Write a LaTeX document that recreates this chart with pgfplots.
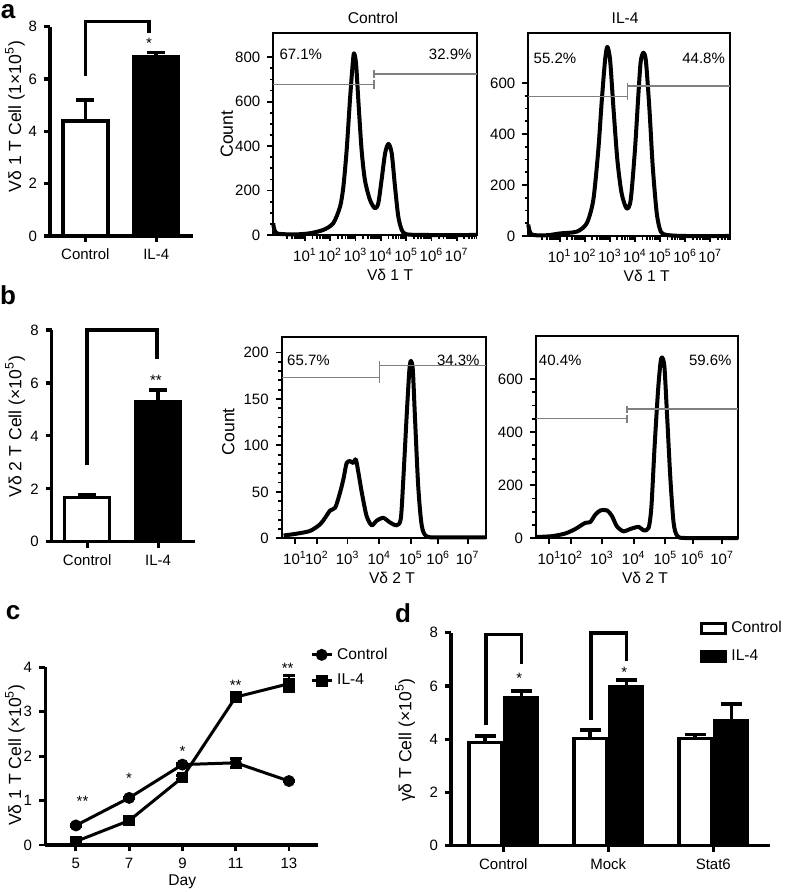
\documentclass[border=0pt]{standalone}
\usepackage{pgfplots}
\pgfplotsset{compat=1.18}
\usepackage{fontspec}
\setmainfont{Liberation Sans}
\newcommand\fs{\fontsize{7.5}{9}\selectfont}
\newcommand\fl{\fontsize{7.8}{9}\selectfont}
\newcommand\fy{\fontsize{8.8}{10}\selectfont}
\pgfplotsset{
  base/.style={scale only axis, clip=false,
    /pgf/number format/assume math mode=true,
    tick label style={font=\fs, black}, label style={font=\fl}, ylabel style={font=\fy}, title style={font=\fl},
    tick style={black}},
  barax/.style={base, axis x line=bottom, axis y line=left,
    axis line style={-, line width=1.8pt}, tick align=outside,
    major tick length=3pt, tick style={line width=1.6pt}},
  hist/.style={base, axis line style={line width=1.1pt}, tick align=outside,
    xtick pos=bottom, ytick pos=left, major tick length=3pt, minor tick length=1.8pt,
    tick style={line width=0.9pt},
    xlabel style={at={(axis description cs:#1,-0.198)}, anchor=center},
    clip mode=individual},
  curve/.style={black, line width=2pt, smooth, tension=0.45, line join=round},
  gate/.style={gray, line width=0.6pt},
  errb/.style={/pgfplots/error bars/y dir=plus, /pgfplots/error bars/y explicit,
    /pgfplots/error bars/error bar style={line width=1.8pt, black},
    /pgfplots/error bars/error mark options={rotate=90, mark size=#1, line width=1.8pt, black}},
  boxlegend/.style={legend image code/.code={\draw[##1,/tikz/.cd,line width=1.6pt,yshift=-2.5pt] (0pt,0pt) rectangle (12pt,5pt);}},
  brk/.style={black, line width=1.8pt, line join=miter},
}
\begin{document}
\begin{tikzpicture}
\useasboundingbox (0,0) rectangle (392pt,446pt);

% panel labels
\node[font=\fontsize{13}{13}\selectfont\bfseries] at (4pt,440pt) {a};
\node[font=\fontsize{13}{13}\selectfont\bfseries] at (4pt,298.5pt) {b};
\node[font=\fontsize{13}{13}\selectfont\bfseries] at (6.5pt,139.5pt) {c};
\node[font=\fontsize{13}{13}\selectfont\bfseries] at (201.5pt,139.5pt) {d};

% ---------- a: bar ----------
\begin{axis}[barax, at={(25pt,328pt)}, anchor=south west, width=71.5pt, height=104.65pt,
  xmin=-0.5, xmax=1.52, ymin=0, ymax=8, ytick={0,2,4,6,8},
  xtick={0,1}, xticklabels={Control,IL-4},
  ylabel={Vδ 1 T Cell (1×10\textsuperscript{5})},
  ylabel style={at={(axis description cs:-0.245,0.57)}, anchor=center}]
\addplot[ybar, bar width=0.634, bar shift=0pt, fill=white, draw=black, line width=1.8pt, errb=4.5pt]
  coordinates {(0,4.4) +- (0,0.8)};
\addplot[ybar, bar width=0.634, bar shift=0pt, fill=black, draw=black, line width=1.8pt, errb=4.5pt]
  coordinates {(1,6.85) +- (0,0.17)};
\addplot[brk] coordinates {(0,6.1) (0,8.2) (0.9,8.2) (0.9,7.76)};
\node[font=\fs] at (axis cs:0.9,7.35) {*};
\end{axis}

% ---------- a: histogram Control ----------
\begin{axis}[hist=0.574, at={(136.65pt,328.5pt)}, anchor=south west, width=101.7pt, height=100.85pt,
  xmin=-0.25, xmax=7.79, ymin=0, ymax=908,
  xtick={1,2,3,4,5,6,7},
  xticklabels={10\textsuperscript{1},10\textsuperscript{2},10\textsuperscript{3},10\textsuperscript{4},10\textsuperscript{5},10\textsuperscript{6},10\textsuperscript{7}},
  minor xtick={0.30,0.48,0.60,0.70,0.78,0.85,0.90,0.95,1.30,1.48,1.60,1.70,1.78,1.85,1.90,1.95,2.30,2.48,2.60,2.70,2.78,2.85,2.90,2.95,3.30,3.48,3.60,3.70,3.78,3.85,3.90,3.95,4.30,4.48,4.60,4.70,4.78,4.85,4.90,4.95,5.30,5.48,5.60,5.70,5.78,5.85,5.90,5.95,6.30,6.48,6.60,6.70,6.78,6.85,6.90,6.95,7.30,7.48,7.60,7.70,7.78},
  ytick={0,200,400,600,800}, minor y tick num=3,
  ylabel={Count}, ylabel style={at={(axis description cs:-0.228,0.5)}, anchor=center},
  xlabel={Vδ 1 T},
  title={Control}, title style={at={(axis description cs:0.49,1)}, anchor=center, yshift=1.6pt}]
\addplot[curve] coordinates {(-0.25,53) (-0.12,8) (0.67,3) (1.20,8) (1.73,23) (2.12,53) (2.39,128)
  (2.52,218) (2.65,383) (2.78,608) (2.89,773) (2.94,818) (3.02,773) (3.11,608) (3.24,383)
  (3.37,248) (3.57,158) (3.77,120) (3.90,143) (4.03,248) (4.17,368) (4.30,410) (4.43,368)
  (4.56,218) (4.69,83) (4.83,22) (5.02,3) (5.82,0) (7.79,0)};
\addplot[gate] coordinates {(-0.25,676) (3.73,676)};
\addplot[gate] coordinates {(3.73,656) (3.73,696)};
\addplot[gate] coordinates {(3.73,725) (7.79,725)};
\addplot[gate] coordinates {(3.73,706) (3.73,742)};
\node[font=\fs, anchor=west, inner sep=0pt] at (axis cs:-0.02,811) {67.1\%};
\node[font=\fs, anchor=east, inner sep=0pt] at (axis cs:7.6,811) {32.9\%};
\end{axis}

% ---------- a: histogram IL-4 ----------
\begin{axis}[hist=0.587, at={(264.15pt,328pt)}, anchor=south west, width=100.85pt, height=101.35pt,
  xmin=-0.25, xmax=7.79, ymin=0, ymax=795,
  xtick={1,2,3,4,5,6,7},
  xticklabels={10\textsuperscript{1},10\textsuperscript{2},10\textsuperscript{3},10\textsuperscript{4},10\textsuperscript{5},10\textsuperscript{6},10\textsuperscript{7}},
  minor xtick={0.30,0.48,0.60,0.70,0.78,0.85,0.90,0.95,1.30,1.48,1.60,1.70,1.78,1.85,1.90,1.95,2.30,2.48,2.60,2.70,2.78,2.85,2.90,2.95,3.30,3.48,3.60,3.70,3.78,3.85,3.90,3.95,4.30,4.48,4.60,4.70,4.78,4.85,4.90,4.95,5.30,5.48,5.60,5.70,5.78,5.85,5.90,5.95,6.30,6.48,6.60,6.70,6.78,6.85,6.90,6.95,7.30,7.48,7.60,7.70,7.78},
  ytick={0,200,400,600}, minor y tick num=3,
  xlabel={Vδ 1 T},
  title={IL-4}, title style={at={(axis description cs:0.48,1)}, anchor=center, yshift=1.6pt}]
\addplot[curve] coordinates {(-0.25,45) (-0.12,6) (0.5,3) (1.01,10) (1.68,17) (2.08,50) (2.34,141)
  (2.54,337) (2.68,533) (2.81,690) (2.90,742) (3.01,690) (3.14,507) (3.30,298) (3.47,167)
  (3.67,108) (3.83,141) (4.00,337) (4.14,559) (4.23,684) (4.34,719) (4.44,684) (4.58,494)
  (4.71,272) (4.87,89) (5.03,17) (5.27,4) (6.0,0) (7.79,0)};
\addplot[gate] coordinates {(-0.25,546) (3.71,546)};
\addplot[gate] coordinates {(3.71,533) (3.71,572)};
\addplot[gate] coordinates {(3.71,588) (7.79,588)};
\addplot[gate] coordinates {(3.71,572) (3.71,601)};
\node[font=\fs, anchor=west, inner sep=0pt] at (axis cs:-0.05,697) {55.2\%};
\node[font=\fs, anchor=east, inner sep=0pt] at (axis cs:7.6,697) {44.8\%};
\end{axis}

% ---------- b: bar ----------
\begin{axis}[barax, at={(25.85pt,175.15pt)}, anchor=south west, width=71.65pt, height=105.85pt,
  xmin=-0.5, xmax=1.52, ymin=0, ymax=8, ytick={0,2,4,6,8},
  xtick={0,1}, xticklabels={Control,IL-4},
  ylabel={Vδ 2 T Cell (×10\textsuperscript{5})},
  ylabel style={at={(axis description cs:-0.256,0.543)}, anchor=center}]
\addplot[ybar, bar width=0.634, bar shift=0pt, fill=white, draw=black, line width=1.8pt, errb=4.5pt]
  coordinates {(0,1.67) +- (0,0.09)};
\addplot[ybar, bar width=0.634, bar shift=0pt, fill=black, draw=black, line width=1.8pt, errb=4.5pt]
  coordinates {(1,5.29) +- (0,0.44)};
\addplot[brk] coordinates {(0,2.9) (0,8.0) (0.985,8.0) (0.985,6.9)};
\node[font=\fs] at (axis cs:0.97,6.1) {**};
\end{axis}

% ---------- b: histogram Control ----------
\begin{axis}[hist=0.54, at={(140.85pt,176.85pt)}, anchor=south west, width=102.15pt, height=100.8pt,
  xmin=0.92, xmax=7.37, ymin=0, ymax=217,
  xtick={1.34,2.03,3,4,5,5.86,6.79},
  xticklabels={10\textsuperscript{1},10\textsuperscript{2},10\textsuperscript{3},10\textsuperscript{4},10\textsuperscript{5},10\textsuperscript{6},10\textsuperscript{7}},
  minor x tick num=3,
  ytick={0,50,100,150,200}, minor y tick num=4,
  ylabel={Count}, ylabel style={at={(axis description cs:-0.261,0.529)}, anchor=center},
  xlabel={Vδ 2 T}]
\addplot[curve] coordinates {(0.98,3) (1.40,5) (1.82,8) (2.13,15) (2.29,22) (2.45,30) (2.61,33)
  (2.76,49) (2.87,64) (2.97,81) (3.08,83) (3.18,81) (3.26,85) (3.34,71) (3.45,49) (3.60,24)
  (3.76,14) (3.92,19) (4.13,22) (4.34,17) (4.55,14) (4.68,21) (4.76,64) (4.87,135) (4.95,181)
  (5.00,191) (5.06,181) (5.13,128) (5.23,56) (5.34,14) (5.50,2) (6.02,1) (7.37,1)};
\addplot[gate] coordinates {(0.92,173) (4.0,173)};
\addplot[gate] coordinates {(4.0,167) (4.0,180)};
\addplot[gate] coordinates {(4.0,186) (7.37,186)};
\addplot[gate] coordinates {(4.0,180) (4.0,191)};
\node[font=\fs, anchor=west, inner sep=0pt] at (axis cs:1.08,192) {65.7\%};
\node[font=\fs, anchor=east, inner sep=0pt] at (axis cs:7.18,192) {34.3\%};
\end{axis}

% ---------- b: histogram IL-4 ----------
\begin{axis}[hist=0.539, at={(268pt,176.85pt)}, anchor=south west, width=101.15pt, height=101.15pt,
  xmin=0.92, xmax=7.30, ymin=0, ymax=762,
  xtick={1.34,2.03,3,4,5,5.86,6.79},
  xticklabels={10\textsuperscript{1},10\textsuperscript{2},10\textsuperscript{3},10\textsuperscript{4},10\textsuperscript{5},10\textsuperscript{6},10\textsuperscript{7}},
  minor x tick num=3,
  ytick={0,200,400,600}, minor y tick num=3,
  xlabel={Vδ 2 T}]
\addplot[curve] coordinates {(0.95,5) (1.42,8) (1.84,18) (2.16,35) (2.47,58) (2.63,61) (2.79,89)
  (2.95,105) (3.16,105) (3.32,83) (3.47,45) (3.68,26) (3.89,35) (4.16,43) (4.31,30) (4.47,39)
  (4.56,120) (4.66,346) (4.77,559) (4.85,665) (4.90,681) (4.97,646) (5.05,471) (5.16,220)
  (5.26,58) (5.37,10) (5.63,1) (7.30,1)};
\addplot[gate] coordinates {(0.92,450) (3.79,450)};
\addplot[gate] coordinates {(3.79,433) (3.79,465)};
\addplot[gate] coordinates {(3.79,487) (7.30,487)};
\addplot[gate] coordinates {(3.79,473) (3.79,500)};
\node[font=\fs, anchor=west, inner sep=0pt] at (axis cs:1.0,671) {40.4\%};
\node[font=\fs, anchor=east, inner sep=0pt] at (axis cs:7.1,671) {59.6\%};
\end{axis}

% ---------- c: line ----------
\begin{axis}[base, at={(22.5pt,23.5pt)}, anchor=south west, width=136.5pt, height=88.85pt,
  axis x line=bottom, axis y line=left, axis line style={-, line width=1.5pt},
  tick align=outside, major tick length=3pt, tick style={line width=1.4pt},
  xmin=3.84, xmax=14.09, ymin=0, ymax=4, xtick={5,7,9,11,13}, ytick={0,1,2,3,4},
  xlabel={Day}, xlabel style={at={(axis description cs:0.503,-0.208)}, anchor=center},
  ylabel={Vδ 1 T Cell (×10\textsuperscript{5})},
  ylabel style={at={(axis description cs:-0.11,0.506)}, anchor=center},
  legend style={draw=none, fill=none, font=\fl, at={(axis description cs:0.97,1.135)},
    anchor=north west, inner sep=0pt, row sep=2pt, legend cell align=left},
  legend image code/.code={\draw[mark repeat=2,mark phase=2,#1] plot coordinates {(0pt,0pt) (5pt,0pt) (10pt,0pt)};}]
\addplot[black, line width=1.5pt, mark=*, mark size=2.2pt,
  error bars/.cd, y dir=both, y explicit, error bar style={line width=1.4pt},
  error mark options={rotate=90, mark size=3pt, line width=1.4pt}]
  coordinates {(5,0.44) +- (0,0.02) (7,1.06) +- (0,0.02) (9,1.81) +- (0,0.03) (11,1.85) +- (0,0.10) (13,1.44) +- (0,0.02)};
\addplot[black, line width=1.5pt, mark=square*, mark size=2.2pt,
  error bars/.cd, y dir=both, y explicit, error bar style={line width=1.4pt},
  error mark options={rotate=90, mark size=3pt, line width=1.4pt}]
  coordinates {(5,0.08) +- (0,0.02) (7,0.55) +- (0,0.03) (9,1.52) +- (0,0.04) (11,3.33) +- (0,0.04) (13,3.63) +- (0,0.18)};
\legend{Control,IL-4}
\node[font=\fs] at (axis cs:5.25,0.98) {**};
\node[font=\fs] at (axis cs:7,1.5) {*};
\node[font=\fs] at (axis cs:9,2.1) {*};
\node[font=\fs] at (axis cs:11,3.6) {**};
\node[font=\fs] at (axis cs:12.95,3.97) {**};
\end{axis}

% ---------- d: grouped bars ----------
\begin{axis}[barax, at={(225.5pt,23.15pt)}, anchor=south west, width=159.5pt, height=106.5pt,
  xmin=-0.498, xmax=2.54, ymin=0, ymax=8, ytick={0,2,4,6,8},
  xtick={0,1,2}, xticklabels={Control,Mock,Stat6},
  ylabel={γδ T Cell (×10\textsuperscript{5})},
  ylabel style={at={(axis description cs:-0.144,0.496)}, anchor=center},
  legend style={draw=none, fill=none, font=\fl, at={(axis description cs:0.78,1.075)},
    anchor=north west, inner sep=0pt, row sep=3pt, legend cell align=left}]
\addplot[ybar, bar width=0.31, bar shift=0pt, fill=white, draw=black, line width=1.8pt, boxlegend, errb=5.2pt]
  coordinates {(-0.172,3.88) +- (0,0.24) (0.828,4.03) +- (0,0.31) (1.828,4.02) +- (0,0.16)};
\addplot[ybar, bar width=0.31, bar shift=0pt, fill=black, draw=black, line width=1.8pt, boxlegend, errb=5.2pt]
  coordinates {(0.172,5.57) +- (0,0.24) (1.172,5.97) +- (0,0.25) (2.172,4.68) +- (0,0.64)};
\legend{Control,IL-4}
\addplot[brk, forget plot] coordinates {(-0.165,4.53) (-0.165,7.93) (0.175,7.93) (0.175,6.81)};
\addplot[brk, forget plot] coordinates {(0.835,4.72) (0.835,8.0) (1.175,8.0) (1.175,6.93)};
\node[font=\fs] at (axis cs:0.152,6.3) {*};
\node[font=\fs] at (axis cs:1.152,6.5) {*};
\end{axis}
\end{tikzpicture}
\end{document}
